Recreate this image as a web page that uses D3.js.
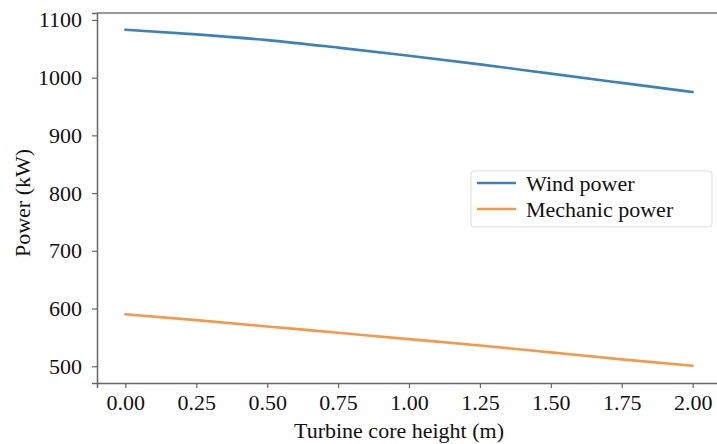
<!DOCTYPE html>
<html>
<head>
<meta charset="utf-8">
<script src="https://cdn.jsdelivr.net/npm/d3@7"></script>
<style>
  body { margin: 0; background: #fff; }
</style>
</head>
<body>
<div id="chart"></div>
<script>
const width = 717;
const height = 444;
const serif = "'Liberation Serif', 'Times New Roman', serif";

// Dados
const heights = [0, 0.25, 0.5, 0.75, 1.0, 1.25, 1.5, 1.75, 2.0];
const windPower = [1083, 1075, 1065, 1052, 1038, 1023, 1007, 991, 975];
const mechanicPower = [590, 580, 569, 558, 547, 536, 524, 512, 501];
const xTicks = [0, 0.25, 0.5, 0.75, 1.0, 1.25, 1.5, 1.75, 2.0];
const yTicks = [500, 600, 700, 800, 900, 1000, 1100];
const seriesNames = ["Wind power", "Mechanic power"];
const seriesColors = ["#3a82be", "#f4994a"];

const margin = { left: 97, top: 13, right: -4, bottom: 61 };

const svg = d3.select("#chart").append("svg")
    .attr("width", width)
    .attr("height", height);

const x = d3.scaleLinear()
    .domain([-0.1, 2.1])
    .range([margin.left, width - margin.right]);

const y = d3.scaleLinear()
    .domain([471, 1112])
    .range([height - margin.bottom, margin.top]);

// Eixos
const xAxis = svg.append("g")
    .attr("transform", `translate(0,${height - margin.bottom})`)
    .call(d3.axisBottom(x).tickValues(xTicks).tickFormat(d3.format(".2f")).tickSize(5).tickPadding(6));

const yAxis = svg.append("g")
    .attr("transform", `translate(${margin.left},0)`)
    .call(d3.axisLeft(y).tickValues(yTicks).tickFormat(d3.format("d")).tickSize(5).tickPadding(10));

[xAxis, yAxis].forEach(g => {
    g.attr("font-family", null).attr("font-size", null);
    g.select(".domain").attr("stroke", "#666").attr("stroke-width", 1.5);
    g.selectAll(".tick line").attr("stroke", "#666").attr("stroke-width", 1.2);
    g.selectAll(".tick text")
        .style("font-family", serif)
        .style("font-size", "22px")
        .attr("fill", "#111");
});

// Borda superior
svg.append("line")
    .attr("x1", margin.left).attr("x2", width)
    .attr("y1", margin.top).attr("y2", margin.top)
    .attr("stroke", "#777").attr("stroke-width", 1.5);

// Linhas
const series = [windPower, mechanicPower];
const line = d3.line()
    .x((d, i) => x(heights[i]))
    .y(d => y(d))
    .curve(d3.curveMonotoneX);

series.forEach((s, k) => {
    svg.append("path")
        .datum(s)
        .attr("fill", "none")
        .attr("stroke", seriesColors[k])
        .attr("stroke-width", 2.6)
        .attr("stroke-linecap", "round")
        .attr("d", line);
});

// Rótulos dos eixos
svg.append("text")
    .attr("x", 399)
    .attr("y", 438)
    .attr("text-anchor", "middle")
    .style("font-family", serif)
    .style("font-size", "22px")
    .attr("fill", "#111")
    .text("Turbine core height (m)");

svg.append("text")
    .attr("transform", "translate(30,203) rotate(-90)")
    .attr("text-anchor", "middle")
    .style("font-family", serif)
    .style("font-size", "22px")
    .attr("fill", "#111")
    .text("Power (kW)");

// Legenda
const legend = svg.append("g").attr("transform", "translate(471,171)");
legend.append("rect")
    .attr("width", 241).attr("height", 56)
    .attr("rx", 3)
    .attr("fill", "#fff")
    .attr("stroke", "#ddd");

seriesNames.forEach((name, i) => {
    const row = legend.append("g").attr("transform", `translate(0,${12 + i * 26})`);
    row.append("line")
        .attr("x1", 6).attr("x2", 45)
        .attr("stroke", seriesColors[i])
        .attr("stroke-width", 2.6);
    row.append("text")
        .attr("x", 55).attr("y", 8)
        .style("font-family", serif)
        .style("font-size", "22px")
        .attr("fill", "#111")
        .text(name);
});
</script>
</body>
</html>
